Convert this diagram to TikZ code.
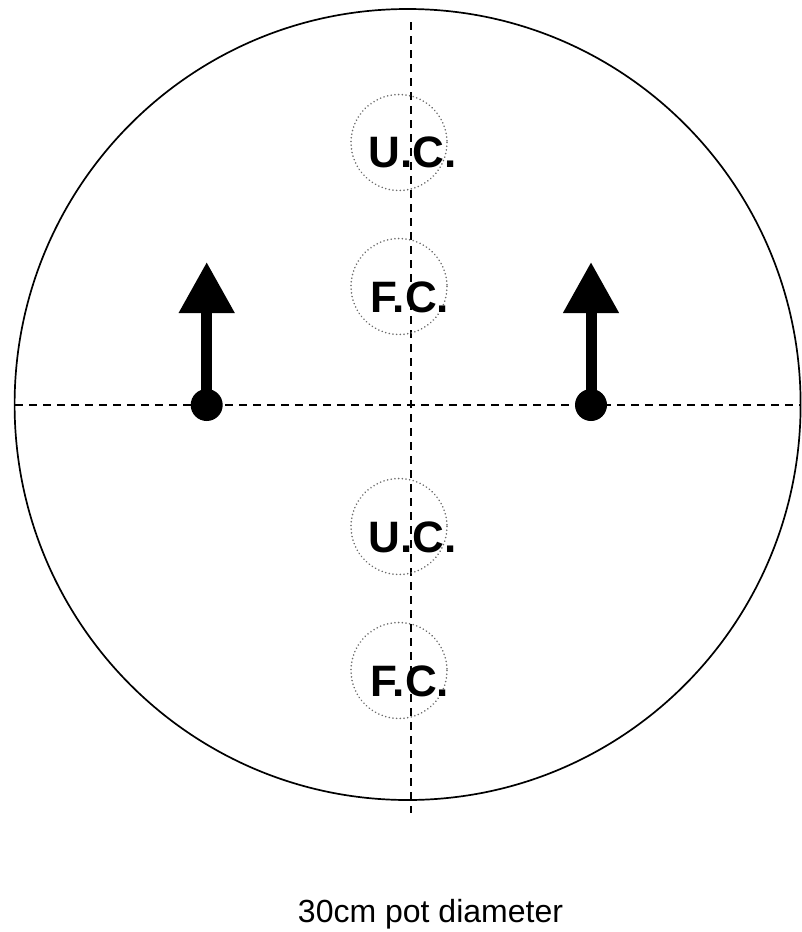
\documentclass[tikz,border=0pt]{standalone}
\usepackage{fontspec}
\setmainfont{Liberation Sans}
\usetikzlibrary{arrows.meta}
\begin{document}
\begin{tikzpicture}[x=1pt,y=-1pt,
  axis/.style={line width=1.7pt, dash pattern=on 8pt off 6pt},
  slot/.style={draw=gray!85!black, line width=1.7pt, dash pattern=on 0.1pt off 3.6pt, line cap=round},
  lbl/.style={font=\fontsize{44}{50}\selectfont\bfseries, inner sep=0pt, anchor=base},
  dotnode/.style={circle, fill=black, minimum size=32pt, inner sep=0pt},
  growarrow/.style={line width=11pt, -{Triangle[width=53pt,length=51pt]}}]
\useasboundingbox (0,0) rectangle (801,932);
% pot
\draw[line width=1.7pt] (407.6,404.5) ellipse [x radius=393, y radius=395.5];
% axes
\coordinate (vt) at (411,22);
\coordinate (vb) at (411,813);
\coordinate (hl) at (15,404.7);
\coordinate (hr) at (801,404.7);
\draw[axis] (vt) -- (vb);
\draw[axis] (hl) -- (hr);
% slots
\draw[slot] (399,142.5) circle [radius=48];
\draw[slot] (399,286.5) circle [radius=48];
\draw[slot] (399,526.5) circle [radius=48];
\draw[slot] (399,670.5) circle [radius=48];
\node[lbl] (uc1) at (412.5,167.5) {U.C.};
\node[lbl] (fc1) at (410,312) {F.C.};
\node[lbl] (uc2) at (412.5,552) {U.C.};
\node[lbl] (fc2) at (410,696.5) {F.C.};
% arrows
\node[dotnode] (d1) at (206.7,405) {};
\node[dotnode] (d2) at (591,405) {};
\coordinate (t1) at (206.7,262);
\coordinate (t2) at (591,262);
\draw[growarrow] (d1.center) -- (t1);
\draw[growarrow] (d2.center) -- (t2);
% caption
\node[font=\fontsize{32}{36}\selectfont, inner sep=0pt, anchor=base] (cap) at (430.5,922) {30cm pot diameter};
\end{tikzpicture}
\end{document}
